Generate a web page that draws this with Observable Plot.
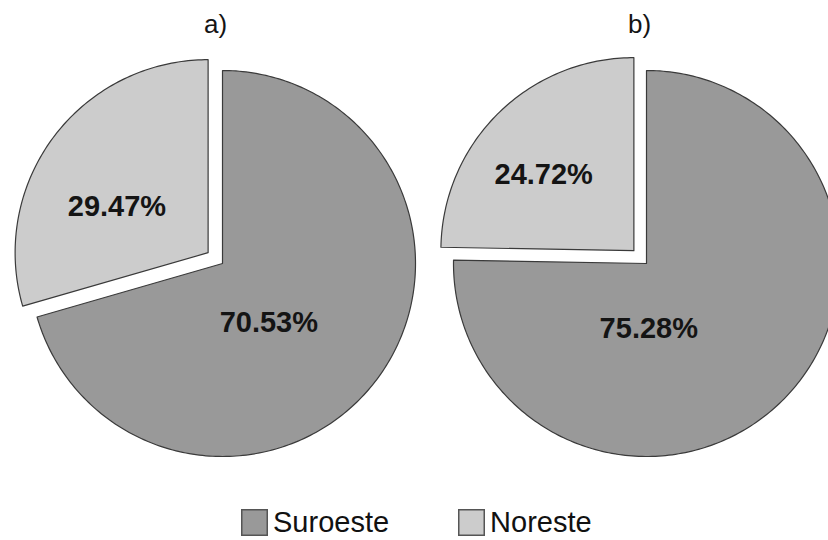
<!DOCTYPE html>
<html><head><meta charset="utf-8">
<script src="https://cdn.jsdelivr.net/npm/d3@7"></script>
<script src="https://cdn.jsdelivr.net/npm/@observablehq/plot@0.6"></script>
<style>
html,body{margin:0;padding:0;background:#fff;}
#chart{width:828px;height:540px;position:relative;overflow:hidden;font-family:"Liberation Sans",Arial,sans-serif;}
#legend{position:absolute;top:506px;left:241px;}
#legend .lg-swatches{font-family:"Liberation Sans",Arial,sans-serif;font-size:29px;color:#111;margin:0;min-height:0;}
#legend .lg-swatch{margin-right:69px;}
#legend .lg-swatch > svg{margin-right:5px;}
#legend .lg-swatch rect{stroke:#555;stroke-width:1.5;x:0.75px;y:0.75px;width:calc(100% - 1.5px);height:calc(100% - 1.5px);}
</style></head><body><div id="chart"></div>
<script>
// ---- data ----
const panels = ["a)", "b)"];
const categories = ["Suroeste", "Noreste"];
const valuesA = [70.53, 29.47];
const valuesB = [75.28, 24.72];
const colors = ["#999999", "#cccccc"];

// ---- layout ----
const W = 828, H = 500;
const centers = [[222, 263], [646, 263]];
const R = 193, explode = 18;
// label placement (angle clockwise from top in degrees, fraction of radius), per panel & category
const labelPos = [[[142, 0.39], [297, 0.53]], [[178, 0.34], [310, 0.61]]];

const series = [valuesA, valuesB];
const slices = [];
const labels = [];
series.forEach((vals, p) => {
  const total = d3.sum(vals);
  let acc = 0;
  vals.forEach((v, k) => {
    const a0 = acc / total * 360, a1 = (acc + v) / total * 360;
    acc += v;
    const isExploded = categories[k] === "Noreste";
    const mid = (a0 + a1) / 2 * Math.PI / 180;
    const [cx0, cy0] = centers[p];
    const cx = cx0 + (isExploded ? explode * Math.sin(mid) : 0);
    const cy = cy0 - (isExploded ? explode * Math.cos(mid) : 0);
    const id = p + "-" + k;
    slices.push({id, cat: categories[k], x: cx, y: cy});
    const n = Math.max(2, Math.ceil(a1 - a0));
    for (let i = 0; i <= n; i++) {
      const a = (a0 + (a1 - a0) * i / n) * Math.PI / 180;
      slices.push({id, cat: categories[k], x: cx + R * Math.sin(a), y: cy - R * Math.cos(a)});
    }
    const [la, lf] = labelPos[p][k];
    const lr = la * Math.PI / 180;
    labels.push({text: v.toFixed(2) + "%", x: cx + lf * R * Math.sin(lr), y: cy - lf * R * Math.cos(lr)});
  });
});
const titles = panels.map((t, i) => ({text: t, x: centers[i][0] - 7, y: 24}));

const chart = Plot.plot({
  width: W, height: H, margin: 0,
  style: {background: "#fff", overflow: "hidden"},
  x: {domain: [0, W], range: [0, W], axis: null},
  y: {domain: [0, H], range: [0, H], axis: null},
  color: {domain: categories, range: colors},
  marks: [
    Plot.line(slices, {x: "x", y: "y", z: "id", fill: "cat", stroke: "#3a3a3a", strokeWidth: 1.2, curve: "linear-closed", clip: true}),
    Plot.text(labels, {x: "x", y: "y", text: "text", fontSize: 29, fontWeight: "bold", fill: "#141414", fontFamily: "Liberation Sans, Arial, sans-serif"}),
    Plot.text(titles, {x: "x", y: "y", text: "text", fontSize: 26, fill: "#141414", fontFamily: "Liberation Sans, Arial, sans-serif"})
  ]
});
const host = document.getElementById("chart");
host.appendChild(chart);
const leg = chart.legend("color", {swatchSize: 27, className: "lg"});
const legWrap = document.createElement("div");
legWrap.id = "legend";
legWrap.appendChild(leg);
host.appendChild(legWrap);
</script></body></html>
